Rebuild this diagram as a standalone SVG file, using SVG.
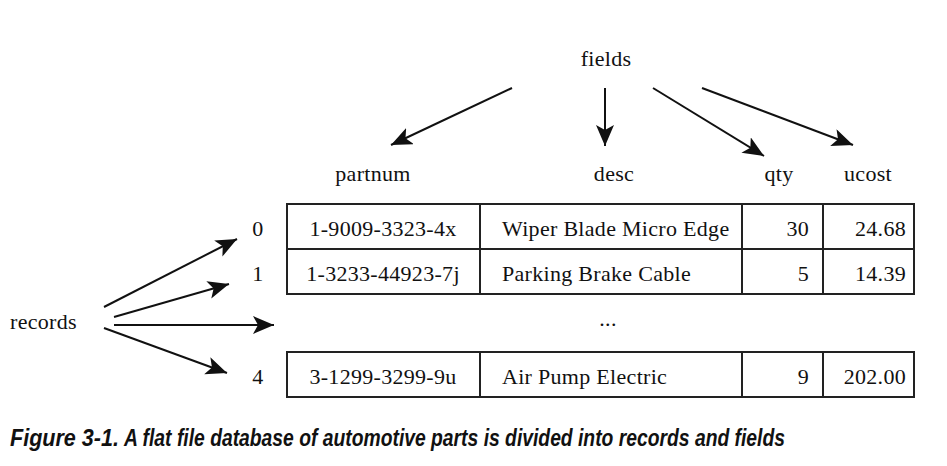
<svg xmlns="http://www.w3.org/2000/svg" width="947" height="466" viewBox="0 0 947 466">
<style>
.t{font-family:"Liberation Serif","Times New Roman",serif;font-size:22px;letter-spacing:0.3px;fill:#111}
.m{text-anchor:middle}
.e{text-anchor:end}
.cell{fill:#fff;stroke:#222;stroke-width:2}
.conn{stroke:#111;stroke-width:2;fill:none;marker-end:url(#ah)}
.cap{font-family:"Liberation Sans Narrow","Liberation Sans",Arial,sans-serif;font-size:23px;font-style:italic;font-weight:bold;fill:#111}
</style>
<defs>
<marker id="ah" markerUnits="userSpaceOnUse" markerWidth="24" markerHeight="20" refX="21" refY="9" orient="auto">
<path d="M0,0 L21,9 L0,18 L5,9 Z" fill="#111"/>
</marker>
</defs>
<rect width="947" height="466" fill="#fff"/>
<g id="fields"><text class="t m" x="606" y="66">fields</text></g>
<g id="records"><text class="t" x="10" y="329">records</text></g>
<g id="h-partnum"><text class="t m" x="373" y="181">partnum</text></g>
<g id="h-desc"><text class="t m" x="614" y="181">desc</text></g>
<g id="h-qty"><text class="t m" x="779" y="181">qty</text></g>
<g id="h-ucost"><text class="t m" x="868" y="181">ucost</text></g>
<g id="idx0"><text class="t m" x="258" y="236">0</text></g>
<g id="idx1"><text class="t m" x="258" y="281">1</text></g>
<g id="idx4"><text class="t m" x="258" y="384">4</text></g>
<g id="row0">
<rect class="cell" x="287" y="204" width="193" height="45"/>
<rect class="cell" x="480" y="204" width="262" height="45"/>
<rect class="cell" x="742" y="204" width="81" height="45"/>
<rect class="cell" x="823" y="204" width="91" height="45"/>
<text class="t m" x="383" y="236">1-9009-3323-4x</text>
<text class="t" x="502" y="236">Wiper Blade Micro Edge</text>
<text class="t e" x="809" y="236">30</text>
<text class="t e" x="906" y="236">24.68</text>
</g>
<g id="row1">
<rect class="cell" x="287" y="249" width="193" height="45"/>
<rect class="cell" x="480" y="249" width="262" height="45"/>
<rect class="cell" x="742" y="249" width="81" height="45"/>
<rect class="cell" x="823" y="249" width="91" height="45"/>
<text class="t m" x="383" y="281">1-3233-44923-7j</text>
<text class="t" x="502" y="281">Parking Brake Cable</text>
<text class="t e" x="809" y="281">5</text>
<text class="t e" x="906" y="281">14.39</text>
</g>
<g id="ellipsis"><text class="t m" x="608" y="326">...</text></g>
<g id="row4">
<rect class="cell" x="287" y="352" width="193" height="45"/>
<rect class="cell" x="480" y="352" width="262" height="45"/>
<rect class="cell" x="742" y="352" width="81" height="45"/>
<rect class="cell" x="823" y="352" width="91" height="45"/>
<text class="t m" x="383" y="384">3-1299-3299-9u</text>
<text class="t" x="502" y="384">Air Pump Electric</text>
<text class="t e" x="809" y="384">9</text>
<text class="t e" x="906" y="384">202.00</text>
</g>
<g id="connectors">
<line class="conn" x1="512" y1="88" x2="391" y2="145"/>
<line class="conn" x1="605" y1="88" x2="605" y2="146"/>
<line class="conn" x1="653" y1="88" x2="764" y2="156"/>
<line class="conn" x1="702" y1="88" x2="853" y2="145"/>
<line class="conn" x1="104" y1="307" x2="237" y2="239"/>
<line class="conn" x1="114" y1="317" x2="229" y2="284"/>
<line class="conn" x1="114" y1="325" x2="274" y2="325"/>
<line class="conn" x1="104" y1="328" x2="227" y2="373"/>
</g>
<g id="caption">
<text class="cap" x="10" y="446" textLength="109" lengthAdjust="spacingAndGlyphs">Figure 3-1.</text>
<text class="cap" x="124" y="446" textLength="661" lengthAdjust="spacingAndGlyphs" style="font-weight:600">A flat file database of automotive parts is divided into records and fields</text>
</g>
</svg>
